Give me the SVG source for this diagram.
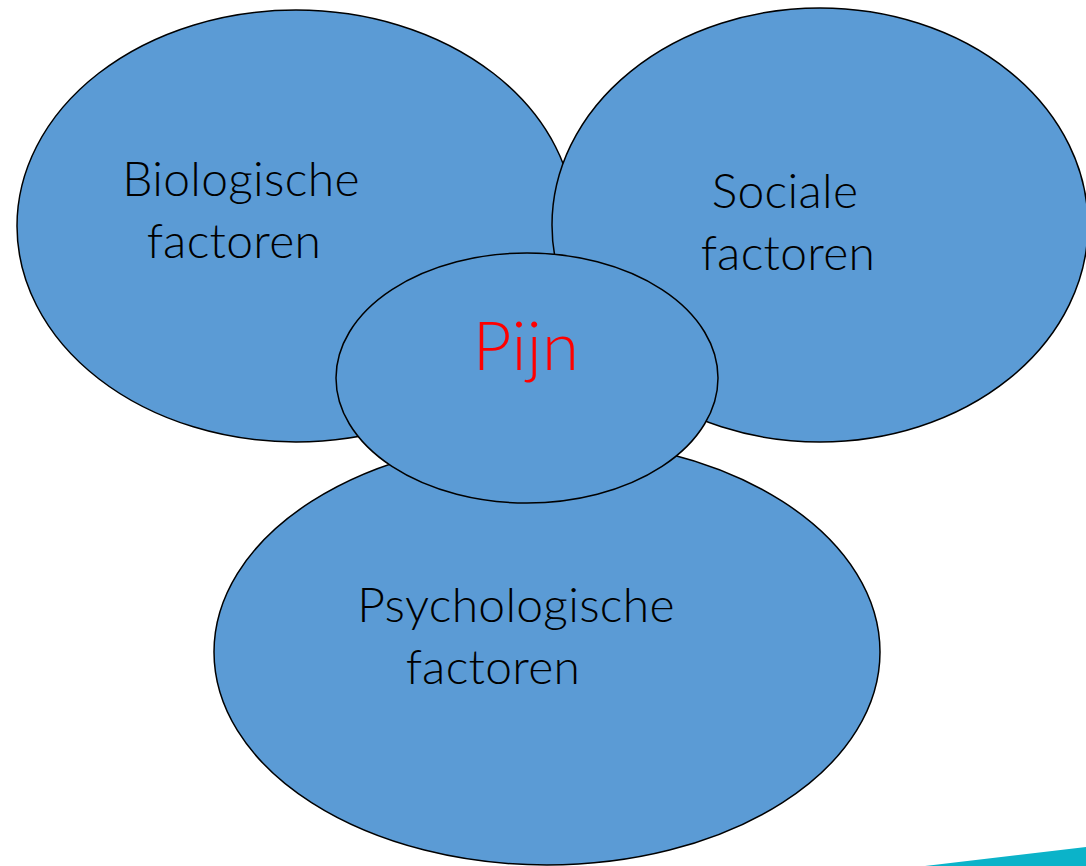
<svg xmlns="http://www.w3.org/2000/svg" width="1086" height="866" viewBox="0 0 1086 866">
<style>
.e{fill:#5B9BD5;stroke:#000;stroke-width:1.5}
.t{font-family:Lato,"Open Sans","Liberation Sans",sans-serif;font-weight:300;font-size:48px;fill:#000;text-anchor:middle;letter-spacing:0.3px}
.p{font-size:67px;fill:#FF0000}
</style>
<rect width="1086" height="866" fill="#fff"/>
<polygon points="925,866 1086,847 1086,866" fill="#0BB3C9"/>
<g id="biologische">
<ellipse class="e" cx="296" cy="226" rx="279" ry="216"/>
<text class="t" x="241" y="196">Biologische</text>
<text class="t" x="234" y="258">factoren</text>
</g>
<g id="sociale">
<ellipse class="e" cx="820" cy="225" rx="268" ry="217"/>
<text class="t" x="785" y="208">Sociale</text>
<text class="t" x="788" y="270">factoren</text>
</g>
<g id="psychologische">
<ellipse class="e" cx="547" cy="652" rx="333" ry="213"/>
<text class="t" x="516" y="622">Psychologische</text>
<text class="t" x="493" y="684">factoren</text>
</g>
<g id="pijn">
<ellipse class="e" cx="527" cy="378" rx="191" ry="125"/>
<text class="t p" x="526" y="370">Pijn</text>
</g>
<g id="connectors"/>
</svg>
